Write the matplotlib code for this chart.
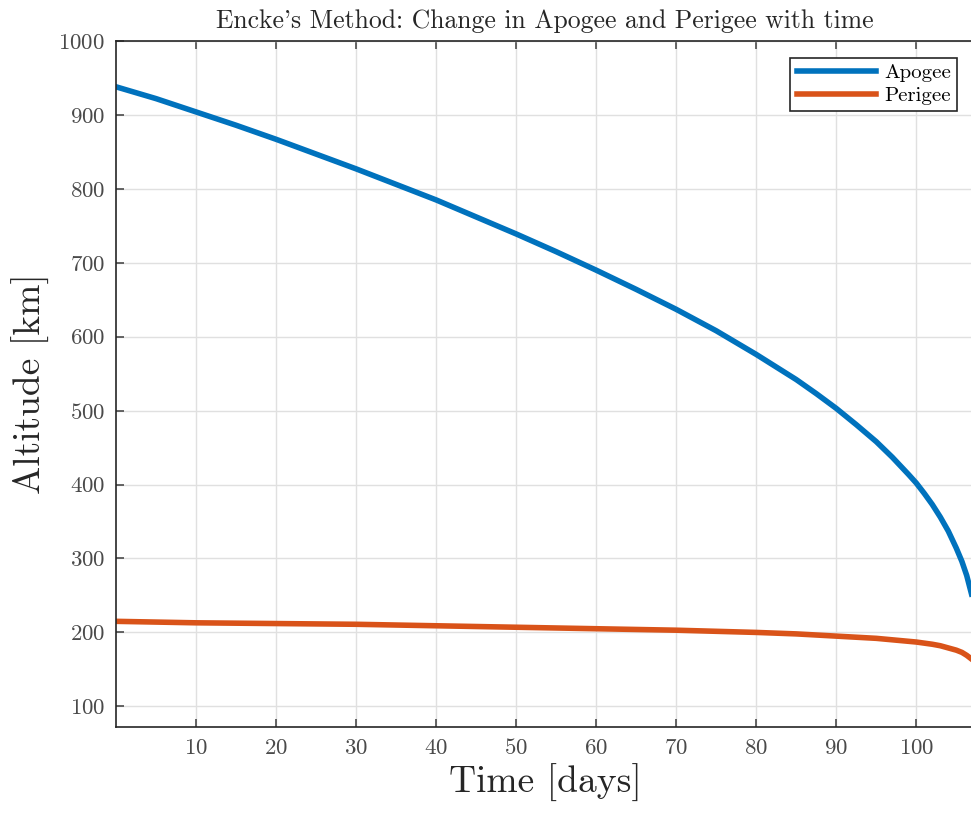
import numpy as np
import matplotlib
matplotlib.use("Agg")
import matplotlib.pyplot as plt

# values (days, km)
t_apo = [0, 5, 10, 15, 20, 25, 30, 35, 40, 45, 50, 55, 60, 65, 70, 75, 80,
         82.5, 85, 87.5, 90, 92.5, 95, 97, 99, 100, 101, 102, 103, 104, 105,
         105.7, 106.3, 106.9]
apogee = [938, 922, 904, 886, 867, 847, 827, 806, 785, 762, 739, 715, 690,
          664, 637, 608, 576, 559, 542, 523, 503, 481, 458, 437, 414, 402,
          388, 373, 356, 337, 314, 296, 277, 252]

t_per = [0, 10, 20, 30, 40, 50, 60, 70, 80, 85, 90, 95, 98, 100, 102, 103,
         104, 105, 105.7, 106.3, 106.9]
perigee = [215, 213, 212, 211, 209, 207, 205, 203, 200, 198, 195, 192, 189,
           187, 184, 182, 179, 176, 173, 169, 164]

xticks = [10, 20, 30, 40, 50, 60, 70, 80, 90, 100]
yticks = [100, 200, 300, 400, 500, 600, 700, 800, 900, 1000]

plt.rcParams['font.family'] = ['cmr10', 'DejaVu Serif']
plt.rcParams['axes.formatter.use_mathtext'] = True
plt.rcParams['mathtext.fontset'] = 'cm'

fig = plt.figure(figsize=(9.71, 8.16), dpi=100)
# right edge sits just past the figure border, as in the reference
ax = fig.add_axes([0.1195, 0.109, 0.8835, 0.8408])

ax.plot(t_apo, apogee, color='#0072BD', lw=4, label='Apogee')
ax.plot(t_per, perigee, color='#D95319', lw=4, label='Perigee')

ax.set_xlim(0, 107.2)
ax.set_ylim(72, 1000)
ax.set_xticks(xticks)
ax.set_yticks(yticks)
ax.grid(True, color='#e0e0e0', lw=1)
ax.set_axisbelow(True)
ax.tick_params(direction='in', top=True, right=False, length=6, width=1.2,
               labelsize=16.5, colors='#4a4a4a', pad=8)
for s in ax.spines.values():
    s.set_color('#262626')
    s.set_linewidth(1.2)

ax.set_title("Encke's Method: Change in Apogee and Perigee with time",
             fontsize=18.5, color='#262626', pad=9)
ax.set_xlabel('Time [days]', fontsize=27, color='#262626', labelpad=4)
ax.set_ylabel('Altitude [km]', fontsize=27, color='#262626', labelpad=6)

leg = ax.legend(loc='upper right', fontsize=15, fancybox=False, framealpha=1,
                edgecolor='#262626', handlelength=3.8, borderaxespad=0.8,
                borderpad=0.3, labelspacing=0.2, handletextpad=0.4)
leg.get_frame().set_linewidth(1.2)

fig.savefig('out.png', dpi=100)
